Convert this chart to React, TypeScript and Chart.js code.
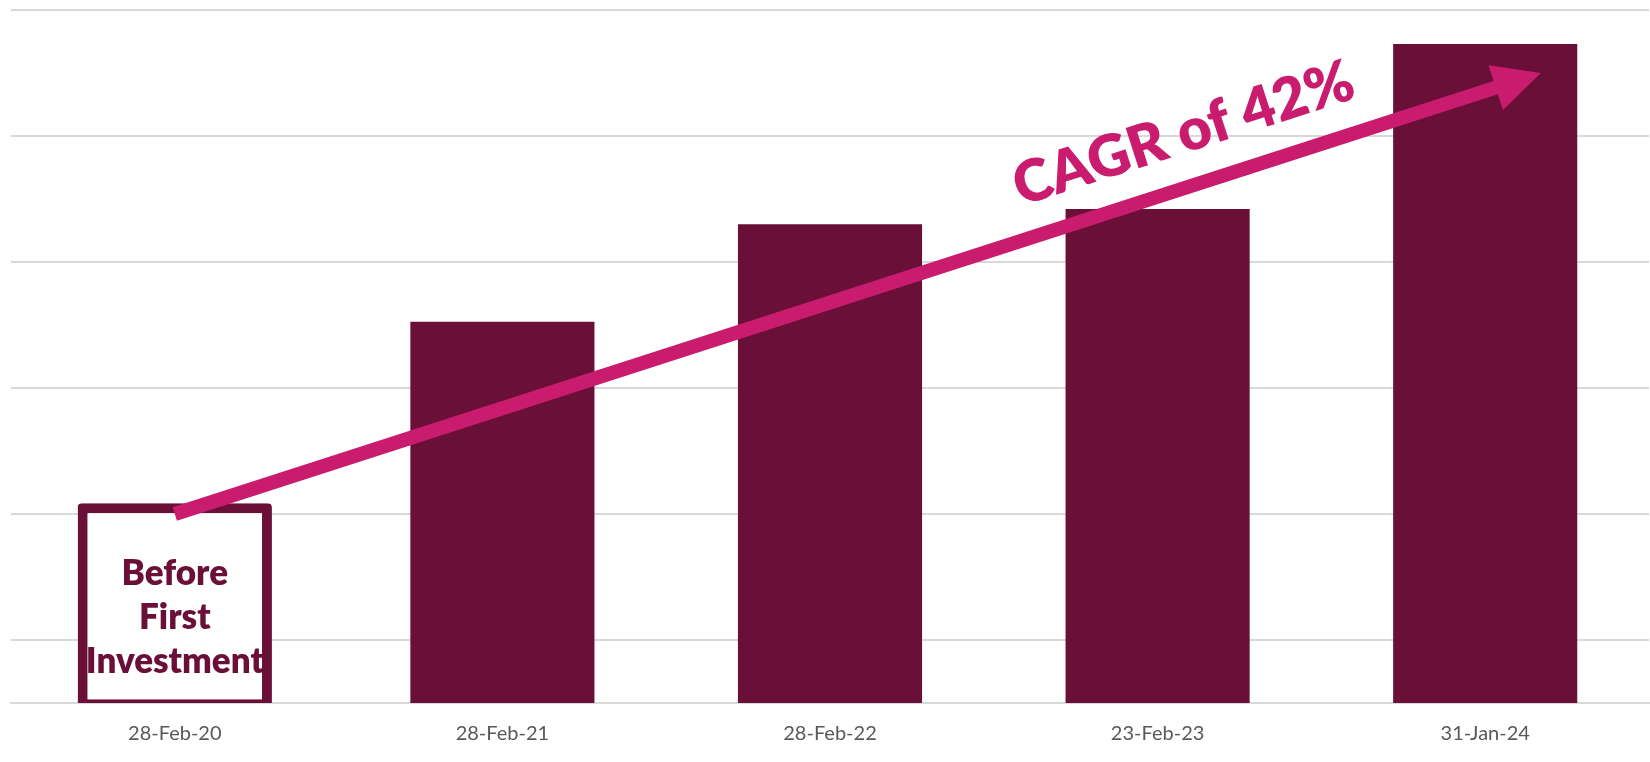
import { useEffect, useRef } from 'react';
import { Chart, registerables } from 'chart.js';

Chart.register(...registerables);

const CATEGORIES = ['28-Feb-20', '28-Feb-21', '28-Feb-22', '23-Feb-23', '31-Jan-24'];
const BOX_VALUES: (number[] | null)[] = [[-0.1, 3.17], null, null, null, null];
const BAR_VALUES: (number | null)[] = [null, 6.05, 7.6, 7.84, 10.46];
const Y_GRID = [1, 3, 5, 7, 9, 11];
const Y_MAX = 11;
const ARROW_FROM = [0, 3.0];
const ARROW_TO = [4.17, 10.0];
const CAGR_LABEL = 'CAGR of 42%';
const CAGR_AT = [3.097, 8.75];
const BOX_LABEL = ['Before', 'First', 'Investment'];
const BOX_LABEL_AT = 1.87;

const MAROON = '#690f38';
const PINK = '#c91c6e';
const GRID = '#d9d9d9';

const annotations = {
  id: 'annotations',
  afterDatasetsDraw(chart: any) {
    const { ctx } = chart;
    const x = chart.scales.x;
    const y = chart.scales.y;
    const x0 = x.getPixelForValue(ARROW_FROM[0]);
    const y0 = y.getPixelForValue(ARROW_FROM[1]);
    const x1 = x.getPixelForValue(ARROW_TO[0]);
    const y1 = y.getPixelForValue(ARROW_TO[1]);
    const ang = Math.atan2(y1 - y0, x1 - x0);
    const len = Math.hypot(x1 - x0, y1 - y0);

    // box label
    ctx.save();
    ctx.fillStyle = MAROON;
    ctx.font = '800 35px Lato';
    ctx.textAlign = 'center';
    ctx.textBaseline = 'alphabetic';
    const bx = x.getPixelForValue(0);
    const by = y.getPixelForValue(BOX_LABEL_AT);
    BOX_LABEL.forEach((t, i) => ctx.fillText(t, bx, by + i * 44));
    ctx.restore();

    // arrow
    ctx.save();
    ctx.translate(x0, y0);
    ctx.rotate(ang);
    ctx.fillStyle = PINK;
    const headLen = 47.5;
    const headHalf = 23.5;
    const shaft = 7;
    ctx.beginPath();
    ctx.moveTo(0, -shaft);
    ctx.lineTo(len - headLen, -shaft);
    ctx.lineTo(len - headLen, -headHalf);
    ctx.lineTo(len, 0);
    ctx.lineTo(len - headLen, headHalf);
    ctx.lineTo(len - headLen, shaft);
    ctx.lineTo(0, shaft);
    ctx.closePath();
    ctx.fill();
    ctx.restore();

    // CAGR label
    ctx.save();
    ctx.translate(x.getPixelForValue(CAGR_AT[0]), y.getPixelForValue(CAGR_AT[1]));
    ctx.rotate(ang);
    ctx.fillStyle = PINK;
    ctx.font = '800 58px Lato';
    ctx.textAlign = 'center';
    ctx.textBaseline = 'alphabetic';
    ctx.fillText(CAGR_LABEL, 0, 0);
    ctx.restore();
  },
};

export default function App() {
  const ref = useRef<HTMLCanvasElement | null>(null);
  useEffect(() => {
    document.body.style.margin = '0';
    if (!ref.current) return;
    const chart = new Chart(ref.current, {
      type: 'bar',
      data: {
        labels: CATEGORIES,
        datasets: [
          {
            data: BOX_VALUES as any,
            backgroundColor: '#ffffff',
            borderColor: MAROON,
            borderWidth: 10,
            borderRadius: 4,
            borderSkipped: false,
            barPercentage: 0.593,
            categoryPercentage: 1,
            grouped: false,
          },
          {
            data: BAR_VALUES,
            backgroundColor: MAROON,
            borderWidth: 0,
            barPercentage: 0.562,
            categoryPercentage: 1,
            grouped: false,
          },
        ],
      },
      options: {
        animation: false,
        responsive: false,
        maintainAspectRatio: false,
        layout: { padding: { left: 11, right: 1, top: 10, bottom: -3 } },
        plugins: { legend: { display: false }, tooltip: { enabled: false } },
        scales: {
          x: {
            grid: { display: false, drawTicks: false },
            border: { display: true, color: GRID, width: 2 },
            ticks: { color: '#595959', font: { family: 'Lato', size: 20 }, padding: 19 },
          },
          y: {
            min: 0,
            max: Y_MAX,
            afterBuildTicks: (axis: any) => {
              axis.ticks = Y_GRID.map((v) => ({ value: v }));
            },
            grid: { color: GRID, lineWidth: 2, drawTicks: false },
            border: { display: false },
            ticks: { display: false },
          },
        },
      },
      plugins: [annotations],
    });
    return () => chart.destroy();
  }, []);
  return (
    <div style={{ width: 1650, height: 762 }}>
      <canvas ref={ref} width={1650} height={762} style={{ width: 1650, height: 762 }} />
    </div>
  );
}
